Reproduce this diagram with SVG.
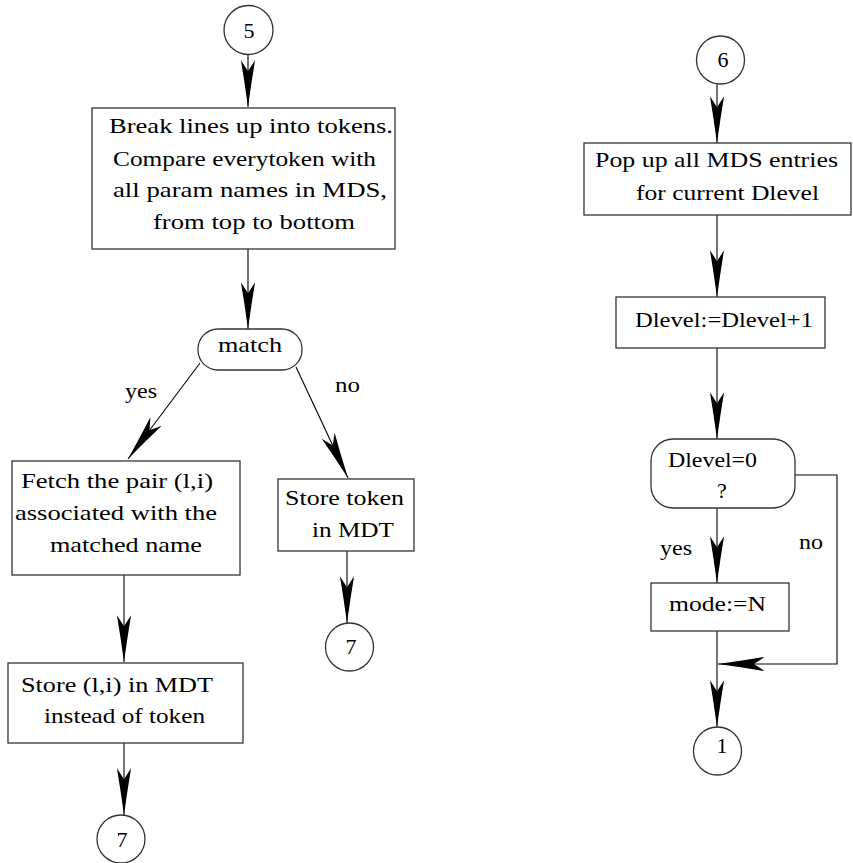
<svg xmlns="http://www.w3.org/2000/svg" width="853" height="863" viewBox="0 0 853 863">
<style>
  .box{fill:#fff;stroke:#333;stroke-width:1.3}
  .ln{fill:none;stroke:#000;stroke-width:1.1}
  text{font-family:"Liberation Serif","Times New Roman",serif;font-size:22px;fill:#000}
  .c{text-anchor:middle}
</style>
<defs>
  <marker id="ah" markerUnits="userSpaceOnUse" markerWidth="50" markerHeight="20" refX="0" refY="0" viewBox="-44 -8 46 16" orient="auto" overflow="visible">
    <path d="M0,0 Q-22,-3 -43,-6.5 L-33,0 L-43,6.5 Q-22,3 0,0 Z" fill="#000"/>
  </marker>
</defs>
<rect width="853" height="863" fill="#fff"/>

<g id="connectors">
  <line class="ln" x1="248" y1="54" x2="248" y2="107" marker-end="url(#ah)"/>
  <line class="ln" x1="248" y1="249" x2="248" y2="329" marker-end="url(#ah)"/>
  <line class="ln" x1="200" y1="363" x2="128" y2="459" marker-end="url(#ah)"/>
  <line class="ln" x1="296" y1="367" x2="348" y2="478" marker-end="url(#ah)"/>
  <line class="ln" x1="124" y1="575" x2="124" y2="662" marker-end="url(#ah)"/>
  <line class="ln" x1="124" y1="743" x2="124" y2="815" marker-end="url(#ah)"/>
  <line class="ln" x1="347" y1="551" x2="347" y2="623" marker-end="url(#ah)"/>
  <line class="ln" x1="717" y1="84" x2="717" y2="143" marker-end="url(#ah)"/>
  <line class="ln" x1="717" y1="215" x2="717" y2="297" marker-end="url(#ah)"/>
  <line class="ln" x1="717" y1="348" x2="717" y2="439" marker-end="url(#ah)"/>
  <line class="ln" x1="717" y1="508" x2="717" y2="583" marker-end="url(#ah)"/>
  <line class="ln" x1="717" y1="631" x2="717" y2="727" marker-end="url(#ah)"/>
  <polyline class="ln" points="795,475 837,475 837,664 718,664" marker-end="url(#ah)"/>
  <text x="125" y="398" textLength="32" lengthAdjust="spacingAndGlyphs">yes</text>
  <text x="335" y="392" textLength="25" lengthAdjust="spacingAndGlyphs">no</text>
  <text x="660" y="555" textLength="32" lengthAdjust="spacingAndGlyphs">yes</text>
  <text x="799" y="549" textLength="24" lengthAdjust="spacingAndGlyphs">no</text>
</g>

<g id="n5">
  <circle class="box" cx="248.5" cy="30" r="24.5"/>
  <text class="c" x="249" y="38">5</text>
</g>
<g id="break">
  <rect class="box" x="92" y="108" width="303" height="141"/>
  <text x="109" y="133" textLength="284" lengthAdjust="spacingAndGlyphs">Break lines up into tokens.</text>
  <text x="113" y="166" textLength="263" lengthAdjust="spacingAndGlyphs">Compare everytoken with</text>
  <text x="113" y="197" textLength="274" lengthAdjust="spacingAndGlyphs">all param names in MDS,</text>
  <text x="153" y="229" textLength="202" lengthAdjust="spacingAndGlyphs">from top to bottom</text>
</g>
<g id="match">
  <rect class="box" x="198" y="329" width="104" height="41" rx="20" ry="20"/>
  <text x="218" y="352" textLength="64" lengthAdjust="spacingAndGlyphs">match</text>
</g>
<g id="fetch">
  <rect class="box" x="12" y="461" width="228" height="114"/>
  <text x="21" y="488" textLength="192" lengthAdjust="spacingAndGlyphs">Fetch the pair (l,i)</text>
  <text x="15" y="520" textLength="202" lengthAdjust="spacingAndGlyphs">associated with the</text>
  <text x="50" y="552" textLength="152" lengthAdjust="spacingAndGlyphs">matched name</text>
</g>
<g id="storetoken">
  <rect class="box" x="278" y="479" width="136" height="72"/>
  <text x="285" y="505" textLength="119" lengthAdjust="spacingAndGlyphs">Store token</text>
  <text x="312" y="537" textLength="82" lengthAdjust="spacingAndGlyphs">in MDT</text>
</g>
<g id="storeli">
  <rect class="box" x="8" y="663" width="235" height="80"/>
  <text x="21" y="692" textLength="192" lengthAdjust="spacingAndGlyphs">Store (l,i) in MDT</text>
  <text x="44" y="723" textLength="161" lengthAdjust="spacingAndGlyphs">instead of token</text>
</g>
<g id="n7a">
  <circle class="box" cx="121" cy="839" r="24"/>
  <text class="c" x="122" y="847">7</text>
</g>
<g id="n7b">
  <circle class="box" cx="349.5" cy="647" r="24"/>
  <text class="c" x="351" y="654">7</text>
</g>

<g id="n6">
  <circle class="box" cx="720.5" cy="60" r="24"/>
  <text class="c" x="723" y="67">6</text>
</g>
<g id="pop">
  <rect class="box" x="584" y="143" width="267" height="72"/>
  <text x="595" y="167" textLength="243" lengthAdjust="spacingAndGlyphs">Pop up all MDS entries</text>
  <text x="636" y="200" textLength="183" lengthAdjust="spacingAndGlyphs">for current Dlevel</text>
</g>
<g id="inc">
  <rect class="box" x="616" y="297" width="209" height="51"/>
  <text x="635" y="327" textLength="178" lengthAdjust="spacingAndGlyphs">Dlevel:=Dlevel+1</text>
</g>
<g id="test">
  <rect class="box" x="651" y="439" width="144" height="69" rx="22" ry="22"/>
  <text x="668" y="467" textLength="89" lengthAdjust="spacingAndGlyphs">Dlevel=0</text>
  <text class="c" x="722" y="498">?</text>
</g>
<g id="mode">
  <rect class="box" x="651" y="583" width="138" height="48"/>
  <text x="669" y="611" textLength="97" lengthAdjust="spacingAndGlyphs">mode:=N</text>
</g>
<g id="n1">
  <circle class="box" cx="717.5" cy="751" r="24"/>
  <text class="c" x="722" y="753">1</text>
</g>
</svg>
